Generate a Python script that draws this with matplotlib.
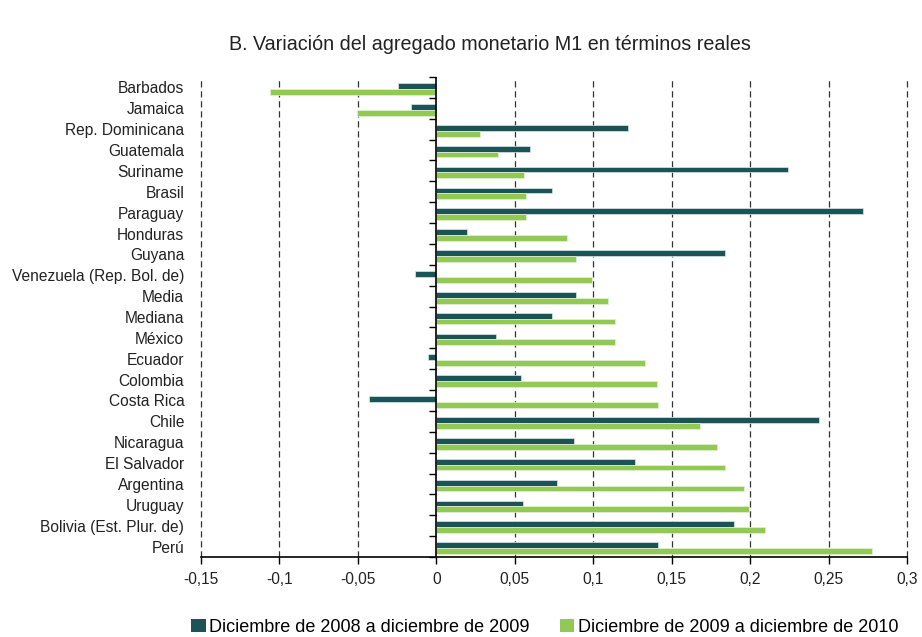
import numpy as np
import matplotlib.pyplot as plt
from matplotlib.patches import Patch

plt.rcParams['font.family'] = ['Liberation Sans', 'DejaVu Sans']

paises = ['Barbados', 'Jamaica', 'Rep. Dominicana', 'Guatemala', 'Suriname', 'Brasil',
          'Paraguay', 'Honduras', 'Guyana', 'Venezuela (Rep. Bol. de)', 'Media', 'Mediana',
          'México', 'Ecuador', 'Colombia', 'Costa Rica', 'Chile', 'Nicaragua', 'El Salvador',
          'Argentina', 'Uruguay', 'Bolivia (Est. Plur. de)', 'Perú']
dic08_dic09 = [-0.0245, -0.0164, 0.1224, 0.0599, 0.2240, 0.0739,
               0.2719, 0.0195, 0.1837, -0.0134, 0.0892, 0.0739,
               0.0378, -0.0051, 0.0539, -0.0427, 0.2441, 0.0880, 0.1266,
               0.0771, 0.0552, 0.1897, 0.1415]
dic09_dic10 = [-0.1062, -0.0506, 0.0276, 0.0390, 0.0559, 0.0569,
               0.0569, 0.0832, 0.0892, 0.0992, 0.1094, 0.1141,
               0.1141, 0.1328, 0.1406, 0.1415, 0.1678, 0.1791, 0.1837,
               0.1959, 0.1990, 0.2092, 0.2774]
etiquetas = ['Diciembre de 2008 a diciembre de 2009', 'Diciembre de 2009 a diciembre de 2010']
xticks = [-0.15, -0.1, -0.05, 0, 0.05, 0.1, 0.15, 0.2, 0.25, 0.3]

c_oscuro = '#1A5457'
c_verde = '#92C955'

fig = plt.figure(figsize=(9.22, 6.37), dpi=100)
ax = fig.add_axes([201 / 922, 1 - 557 / 637, 706 / 922, 480 / 637])

y = np.arange(len(paises))
h = 0.28
ax.barh(y - 0.065, dic08_dic09, height=h, color=c_oscuro, edgecolor='#DDE8E8', linewidth=0.5, zorder=3)
ax.barh(y + 0.215, dic09_dic10, height=h, color=c_verde, edgecolor='#E4F0D8', linewidth=0.5, zorder=3)

xmin, xmax = -0.15, 0.3
ax.set_xlim(xmin, xmax)
ax.set_ylim(len(paises) - 0.5, -0.5)

ax.set_yticks(y)
ax.set_yticklabels(paises, fontsize=11.2, color='#222222')
ax.tick_params(axis='y', length=0, pad=12)

ax.set_xticks(xticks)
ax.set_xticklabels([f'{v:g}'.replace('.', ',') for v in xticks], fontsize=11.2, color='#222222')
ax.tick_params(axis='x', direction='out', length=5, width=1, pad=6)

for s in ['top', 'right', 'left']:
    ax.spines[s].set_visible(False)
ax.spines['bottom'].set_linewidth(1.2)

# vertical dashed grid
for v in xticks:
    if v != 0:
        ax.axvline(v, color='#333333', linestyle=(0, (5, 3)), linewidth=0.9, zorder=1, clip_on=False)
ax.axvline(0, color='black', linewidth=1.2, zorder=4)

# tick marks on the zero line at category boundaries
sec = ax.secondary_yaxis((0 - xmin) / (xmax - xmin))
sec.set_yticks(np.arange(-0.5, len(paises), 1))
sec.set_yticklabels([])
sec.tick_params(direction='out', length=5, width=1)
sec.spines['left'].set_visible(False)

fig.text(490 / 922, 1 - 44 / 637, 'B. Variación del agregado monetario M1 en términos reales',
         ha='center', va='center', fontsize=14.2, color='#222222')

handles = [Patch(facecolor=c_oscuro), Patch(facecolor=c_verde)]
fig.legend(handles, etiquetas, loc='center', bbox_to_anchor=(545 / 922, 1 - 627 / 637), ncol=2,
           frameon=False, fontsize=13, handlelength=0.78, handleheight=0.75, handletextpad=0.2,
           columnspacing=1.7)

fig.savefig('out.png', dpi=100)
